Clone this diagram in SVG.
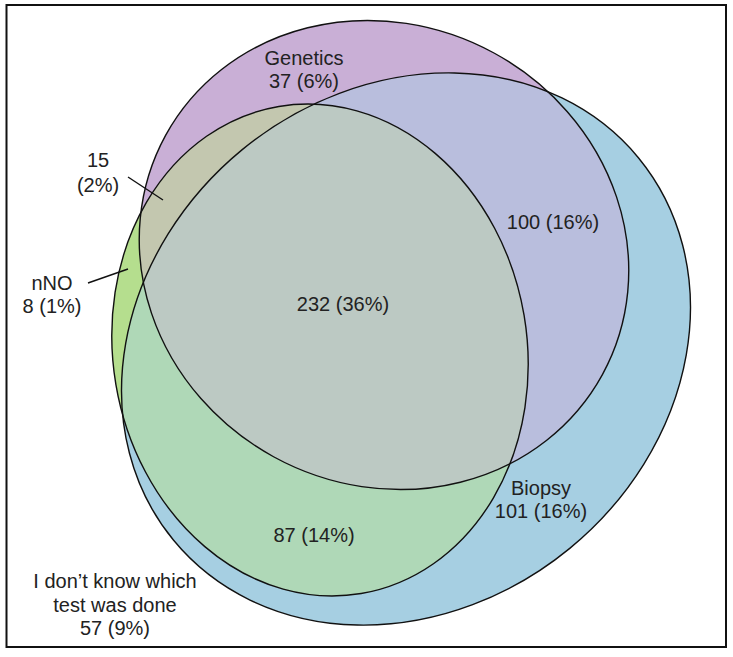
<svg xmlns="http://www.w3.org/2000/svg" width="733" height="657" viewBox="0 0 733 657">
<style>
.lbl{font-family:"Liberation Sans",Arial,sans-serif;font-size:20px;fill:#222;text-anchor:middle}
.edge{fill:none;stroke:#111;stroke-width:1.4}
.lead{stroke:#111;stroke-width:1.4}
</style>
<defs>
<ellipse id="shB" cx="406" cy="349" rx="301" ry="258" transform="rotate(-39.4 406 349)"/>
<ellipse id="shP" cx="384" cy="255" rx="249" ry="230" transform="rotate(28.7 384 255)"/>
<ellipse id="shG" cx="320" cy="350" rx="207" ry="247" transform="rotate(-9.6 320 350)"/>
<clipPath id="cP"><use href="#shP"/></clipPath>
<clipPath id="cB"><use href="#shB"/></clipPath>
</defs>
<rect x="0" y="0" width="733" height="657" fill="#fff"/>
<rect x="6.5" y="5" width="719.5" height="642" fill="#fff" stroke="#111" stroke-width="2"/>
<g id="fills">
<use href="#shB" fill="#a6cfe2"/>
<use href="#shP" fill="#c9afd6"/>
<use href="#shG" fill="#b5de8e"/>
<g clip-path="url(#cP)"><use href="#shB" fill="#b9bedd"/></g>
<g clip-path="url(#cP)"><use href="#shG" fill="#c3c7af"/></g>
<g clip-path="url(#cB)"><use href="#shG" fill="#afd8b7"/></g>
<g clip-path="url(#cB)"><g clip-path="url(#cP)"><use href="#shG" fill="#bcc9c3"/></g></g>
</g>
<g id="biopsy">
<use href="#shB" class="edge"/>
<text class="lbl" x="541" y="495">Biopsy</text>
<text class="lbl" x="541" y="518">101 (16%)</text>
</g>
<g id="genetics">
<use href="#shP" class="edge"/>
<text class="lbl" x="304" y="65">Genetics</text>
<text class="lbl" x="304" y="88">37 (6%)</text>
</g>
<g id="nno">
<use href="#shG" class="edge"/>
<text class="lbl" x="52" y="290">nNO</text>
<text class="lbl" x="52" y="313">8 (1%)</text>
</g>
<g id="region-labels">
<text class="lbl" x="343" y="311">232 (36%)</text>
<text class="lbl" x="553" y="229">100 (16%)</text>
<text class="lbl" x="314" y="542">87 (14%)</text>
<text class="lbl" x="98" y="167">15</text>
<text class="lbl" x="98" y="192">(2%)</text>
</g>
<g id="unknown">
<text class="lbl" x="115" y="588">I don’t know which</text>
<text class="lbl" x="115" y="611.5">test was done</text>
<text class="lbl" x="115" y="635">57 (9%)</text>
</g>
<g id="connectors">
<line class="lead" x1="128" y1="177" x2="163" y2="200"/>
<line class="lead" x1="88" y1="283" x2="128" y2="269"/>
</g>
</svg>
